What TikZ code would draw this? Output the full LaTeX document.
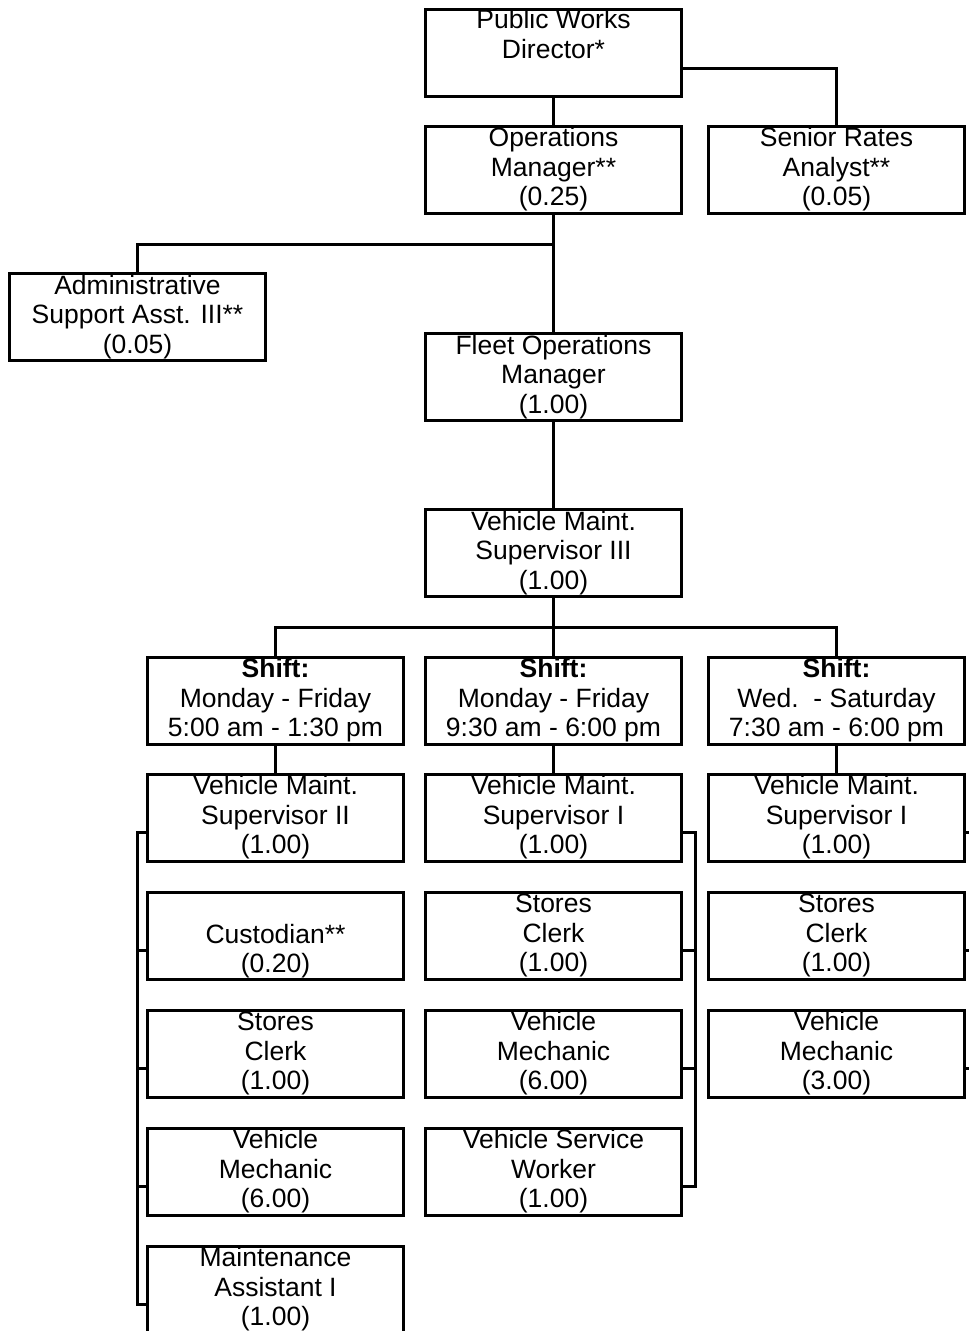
\documentclass[tikz,border=0pt]{standalone}
\usepackage{fontspec}
\setmainfont{Liberation Sans}
\begin{document}
\begin{tikzpicture}[x=1pt,y=-1pt,
  box/.style={draw, line width=3pt, minimum width=256pt, minimum height=87pt,
    inner sep=0pt, align=center, font=\fontsize{26.5}{29.5}\selectfont},
  link/.style={line width=3pt}]
\useasboundingbox (0,0) rectangle (969,1331);
\clip (0,0) rectangle (969,1331);

% top of the chart
\node[box] (dir) at (553.5,53) {Public Works\\Director*\\\strut};
\node[box] (ops) at (553.5,169.5) {Operations\\Manager**\\(0.25)};
\node[box] (sra) at (836.5,169.5) {Senior Rates\\Analyst**\\(0.05)};
\node[box] (adm) at (137.5,317) {Administrative\\Support Asst. III**\\(0.05)};
\node[box] (fleet) at (553.5,377) {Fleet Operations\\Manager\\(1.00)};
\node[box] (vms3) at (553.5,553) {Vehicle Maint.\\Supervisor III\\(1.00)};

% shifts
\node[box] (sh1) at (275.5,700.5) {\textbf{Shift:}\\Monday - Friday\\5:00 am - 1:30 pm};
\node[box] (sh2) at (553.5,700.5) {\textbf{Shift:}\\Monday - Friday\\9:30 am - 6:00 pm};
\node[box] (sh3) at (836.5,700.5) {\textbf{Shift:}\\Wed.\ \ - Saturday\\7:30 am - 6:00 pm};

% left column
\node[box] (a1) at (275.5,817.5) {Vehicle Maint.\\Supervisor II\\(1.00)};
\node[box] (a2) at (275.5,935.5) {\strut\\Custodian**\\(0.20)};
\node[box] (a3) at (275.5,1053.5) {Stores\\Clerk\\(1.00)};
\node[box] (a4) at (275.5,1171.5) {Vehicle\\Mechanic\\(6.00)};
\node[box] (a5) at (275.5,1289.5) {Maintenance\\Assistant I\\(1.00)};

% middle column
\node[box] (b1) at (553.5,817.5) {Vehicle Maint.\\Supervisor I\\(1.00)};
\node[box] (b2) at (553.5,935.5) {Stores\\Clerk\\(1.00)};
\node[box] (b3) at (553.5,1053.5) {Vehicle\\Mechanic\\(6.00)};
\node[box] (b4) at (553.5,1171.5) {Vehicle Service\\Worker\\(1.00)};

% right column
\node[box] (c1) at (836.5,817.5) {Vehicle Maint.\\Supervisor I\\(1.00)};
\node[box] (c2) at (836.5,935.5) {Stores\\Clerk\\(1.00)};
\node[box] (c3) at (836.5,1053.5) {Vehicle\\Mechanic\\(3.00)};

% junctions
\coordinate (opsj) at (553.5,244);
\coordinate (busj) at (553.5,627);

% upper connectors
\draw[link] (dir.south) -- (ops.north);
\draw[link] ([yshift=-15pt]dir.east) -| (sra.north);
\draw[link] (ops.south) -- (fleet.north);
\draw[link] (opsj) -| (adm.north);
\draw[link] (fleet.south) -- (vms3.north);
\draw[link] (vms3.south) -- (sh2.north);
\draw[link] (sh1.north) |- (busj) -| (sh3.north);
\draw[link] (sh1.south) -- (a1.north);
\draw[link] (sh2.south) -- (b1.north);
\draw[link] (sh3.south) -- (c1.north);

% left bus
\draw[link] ([yshift=-15pt]a1.west) -- ++(-9,0) |- ([yshift=-15pt]a5.west);
\foreach \n in {a2,a3,a4}
  \draw[link] ([yshift=-15pt]\n.west) -- ++(-9,0);

% middle bus
\draw[link] ([yshift=-15pt]b1.east) -- ++(12,0) |- ([yshift=-15pt]b4.east);
\foreach \n in {b2,b3}
  \draw[link] ([yshift=-15pt]\n.east) -- ++(12,0);

% right bus stubs
\foreach \n in {c1,c2,c3}
  \draw[link] ([yshift=-15pt]\n.east) -- ++(12,0);
\end{tikzpicture}
\end{document}
